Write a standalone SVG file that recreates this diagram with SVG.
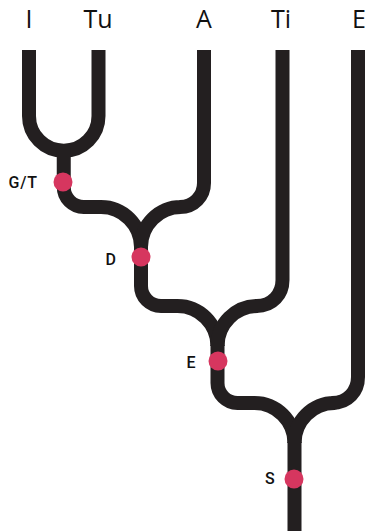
<svg xmlns="http://www.w3.org/2000/svg" width="365" height="531" viewBox="0 0 365 531">
  <style>
    .branch { fill: none; stroke: #231f20; stroke-width: 14; stroke-linecap: butt; stroke-linejoin: round; }
    .dot { fill: #d6365f; }
    .leaf { font-family: "Open Sans", "Liberation Sans", sans-serif; font-size: 25px; fill: #111; text-anchor: middle; }
    .nlabel { font-family: Roboto, "Liberation Sans", Arial, sans-serif; font-size: 16px; font-weight: 500; fill: #111; letter-spacing: 0.8px; }
  </style>
  <g id="connectors">
    <path class="branch" d="M29,50 V116 A34.75,34.75 0 0 0 98.5,116 V50"/>
    <path class="branch" d="M63.75,148 V187 C63.75,198 72.75,207 83.75,207 L101,207 C123,207 141,225 141,247"/>
    <path class="branch" d="M204,50 V183 C204,196 194,207 180,207 L181,207 C159,207 141,225 141,247"/>
    <path class="branch" d="M141,246 V286 C141,297 150,306 161,306 L177.5,306 C199.5,306 217.5,324 217.5,346"/>
    <path class="branch" d="M282.5,50 V280 C282.5,294 272.5,306 256.5,306 L257.5,306 C235.5,306 217.5,324 217.5,346"/>
    <path class="branch" d="M217.5,345 V383 C217.5,394 226.5,403 237.5,403 L254.5,403 C276.5,403 294.5,421 294.5,443"/>
    <path class="branch" d="M358,50 V377 C358,391 348,403 332,403 L334.5,403 C312.5,403 294.5,421 294.5,443"/>
    <path class="branch" d="M294.5,442 V531"/>
  </g>
  <g id="leaf-I"><text class="leaf" x="29" y="28">I</text></g>
  <g id="leaf-Tu"><text class="leaf" x="98" y="28">Tu</text></g>
  <g id="leaf-A"><text class="leaf" x="204" y="28">A</text></g>
  <g id="leaf-Ti"><text class="leaf" x="281" y="28">Ti</text></g>
  <g id="leaf-E"><text class="leaf" x="359" y="28">E</text></g>
  <g id="node-GT"><circle class="dot" cx="63" cy="182" r="9.5"/><text class="nlabel" x="8.5" y="188">G/T</text></g>
  <g id="node-D"><circle class="dot" cx="141" cy="257" r="9.5"/><text class="nlabel" x="105.5" y="265">D</text></g>
  <g id="node-E"><circle class="dot" cx="218" cy="361" r="9.5"/><text class="nlabel" x="186.5" y="368">E</text></g>
  <g id="node-S"><circle class="dot" cx="294" cy="479" r="9.5"/><text class="nlabel" x="265" y="484">S</text></g>
</svg>
